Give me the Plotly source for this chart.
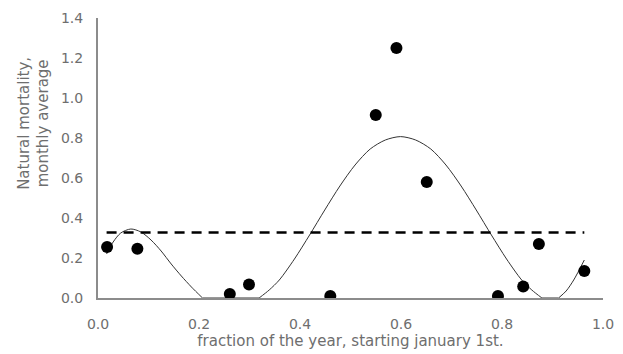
import plotly.graph_objects as go

# observed monthly averages
obs_x = [0.018, 0.078, 0.261, 0.299, 0.460, 0.550, 0.591, 0.651, 0.792, 0.842, 0.873, 0.963]
obs_y = [0.255, 0.246, 0.020, 0.068, 0.010, 0.915, 1.250, 0.580, 0.010, 0.057, 0.270, 0.135]

# fitted seasonal curve; None separates the smooth pieces
fit_x = [0.017, 0.030, 0.045, 0.065, 0.085, 0.105, 0.125, 0.145, 0.165, 0.185, 0.207, None,
         0.207, 0.319, None,
         0.319, 0.339, 0.359, 0.389, 0.419, 0.449, 0.479, 0.509, 0.539, 0.569, 0.599,
         0.629, 0.659, 0.689, 0.719, 0.749, 0.779, 0.809, 0.839, 0.859, 0.879, None,
         0.879, 0.912, None,
         0.912, 0.927, 0.942, 0.963]
fit_y = [0.220, 0.280, 0.325, 0.345, 0.330, 0.290, 0.235, 0.170, 0.110, 0.055, 0.000, None,
         0.000, 0.000, None,
         0.000, 0.040, 0.090, 0.195, 0.315, 0.440, 0.560, 0.665, 0.745, 0.790, 0.807,
         0.790, 0.745, 0.665, 0.560, 0.440, 0.315, 0.195, 0.090, 0.040, 0.000, None,
         0.000, 0.000, None,
         0.000, 0.035, 0.090, 0.190]

# annual average
avg_x = [0.017, 0.963]
avg_y = [0.327, 0.327]

x_ticks = [0.0, 0.2, 0.4, 0.6, 0.8, 1.0]
y_ticks = [0.0, 0.2, 0.4, 0.6, 0.8, 1.0, 1.2, 1.4]

FONT = "DejaVu Sans"
GREY = "#6e6e6e"

fig = go.Figure()
fig.add_trace(go.Scatter(x=fit_x, y=fit_y, mode="lines", connectgaps=False,
                         line=dict(color="#333333", width=1, shape="spline", smoothing=0.8),
                         showlegend=False))
fig.add_trace(go.Scatter(x=avg_x, y=avg_y, mode="lines",
                         line=dict(color="#000000", width=2.5, dash="10px,7px"), showlegend=False))
fig.add_trace(go.Scatter(x=obs_x, y=obs_y, mode="markers",
                         marker=dict(color="#000000", size=12), showlegend=False))

# page body adds an 8px offset, so the figure is 8px smaller and margins shifted
fig.update_layout(
    width=615, height=346,
    margin=dict(l=90, r=20, t=10, b=56),
    paper_bgcolor="white", plot_bgcolor="white",
    font=dict(family=FONT, size=14, color=GREY),
    xaxis=dict(range=[0, 1.0], tickvals=x_ticks, ticktext=[f"{v:.1f}" for v in x_ticks],
               showgrid=False, zeroline=False, showline=True, linecolor="#8c8c8c", linewidth=2,
               ticks="", ticklabelstandoff=12, automargin=False,
               title=dict(text="fraction of the year, starting january 1st.", standoff=5,
                          font=dict(size=15, color=GREY))),
    yaxis=dict(range=[0, 1.4], tickvals=y_ticks, ticktext=[f"{v:.1f}" for v in y_ticks],
               showgrid=False, zeroline=False, showline=True, linecolor="#8c8c8c", linewidth=2,
               ticks="", ticklabelstandoff=10, automargin=False),
    annotations=[dict(text="Natural mortality,<br>monthly average", textangle=-90,
                      xref="paper", yref="paper", x=-0.127, y=0.625,
                      xanchor="center", yanchor="middle", showarrow=False,
                      font=dict(size=15, color=GREY))],
)

fig.write_html("out.html")
